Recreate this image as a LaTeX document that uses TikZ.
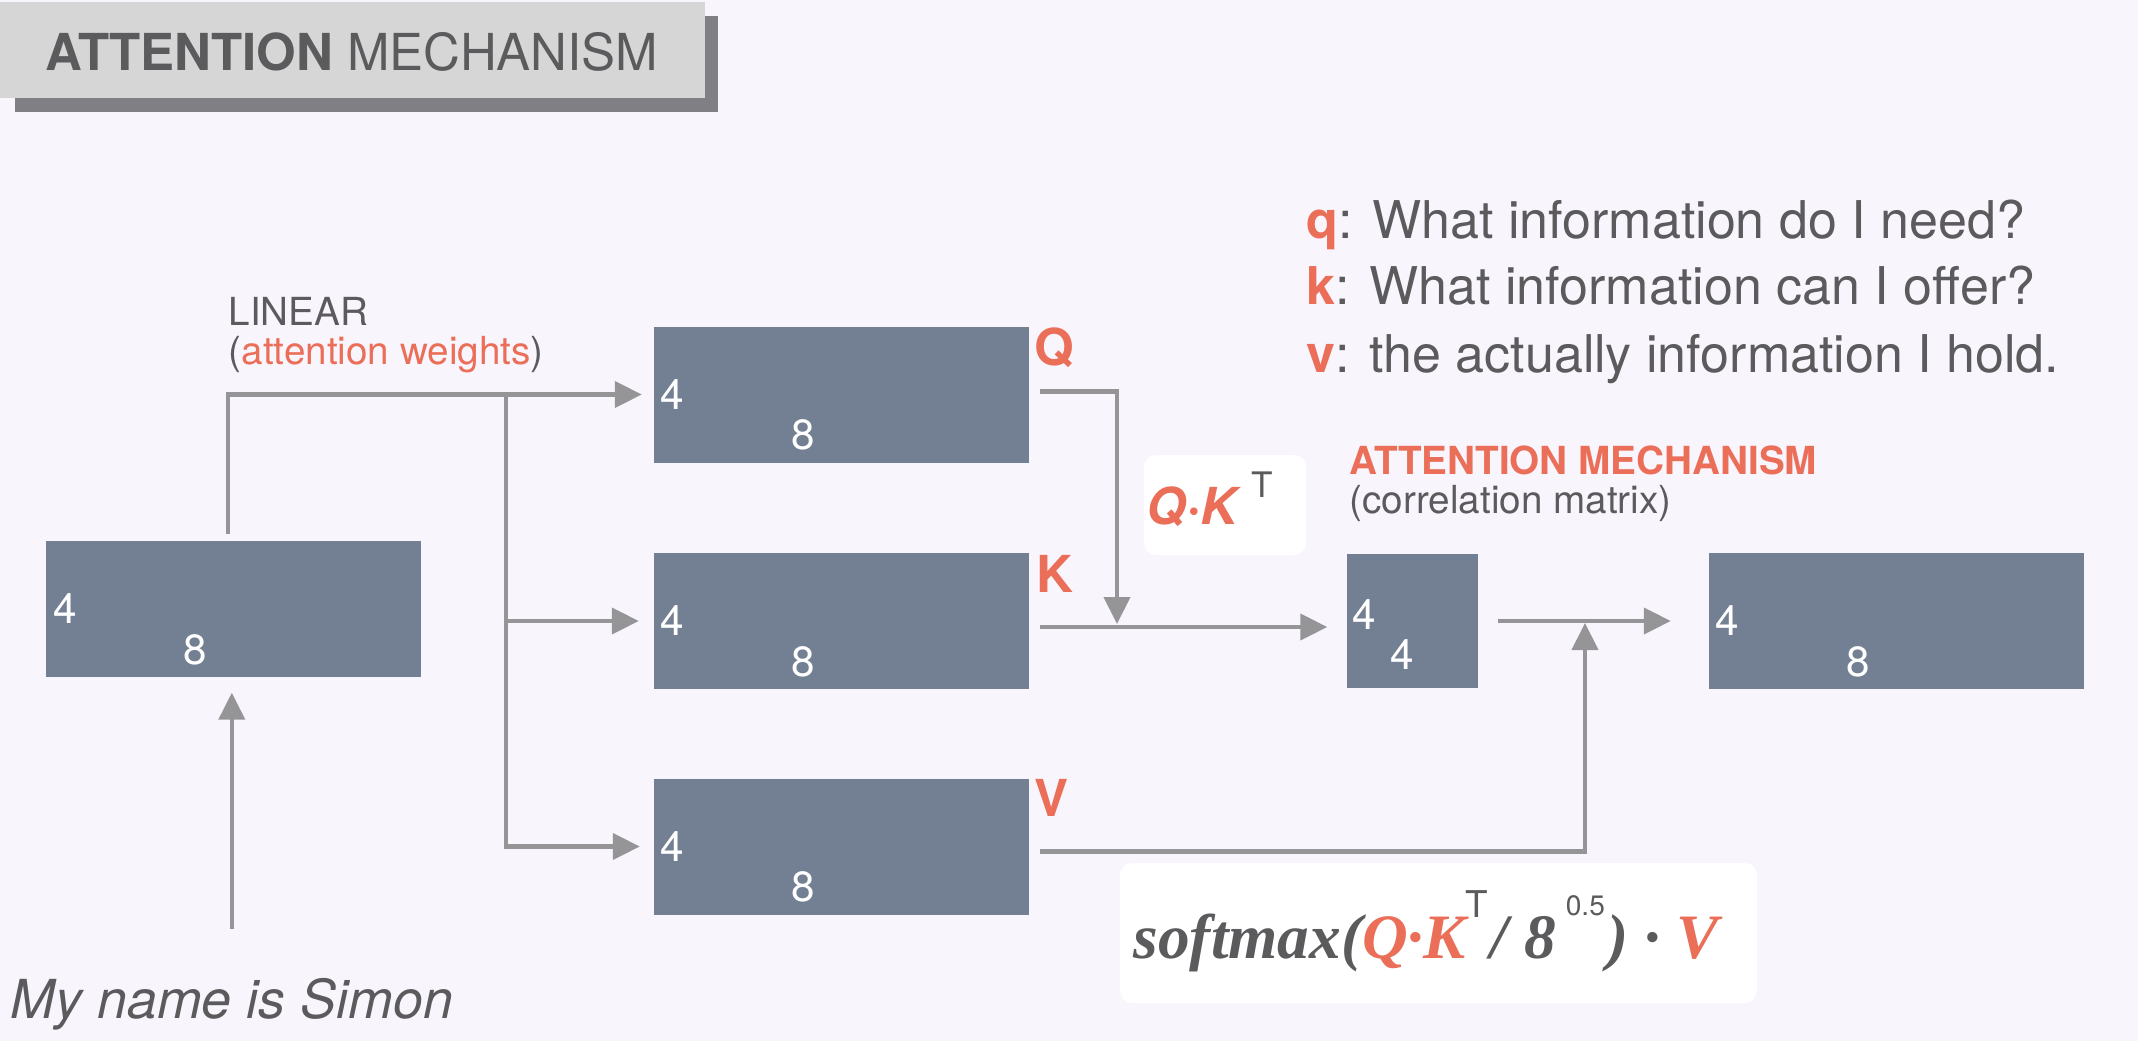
\documentclass[tikz,border=0pt]{standalone}
\usepackage{fontspec}
\setmainfont{TeX Gyre Heros}
\newfontfamily\formfont{Liberation Serif}
\usepackage{tikz}
\usetikzlibrary{arrows.meta}
\definecolor{pagebg}{RGB}{249,245,253}
\definecolor{slate}{RGB}{115,128,147}
\definecolor{wiregray}{RGB}{149,149,151}
\definecolor{accentred}{RGB}{234,110,88}
\definecolor{inkgray}{RGB}{91,91,93}
\definecolor{titlegray}{RGB}{214,214,214}
\definecolor{shadowgray}{RGB}{128,127,132}
\newcommand{\fsz}[1]{\fontsize{#1}{#1}\selectfont}

\begin{document}
\begin{tikzpicture}[>={Triangle[length=0.27cm,width=0.26cm]},
    mat/.style={fill=slate, minimum width=3.75cm, minimum height=1.36cm, inner sep=0},
    dim/.style={text=white, font=\fsz{12}, inner sep=0},
    wire/.style={draw=wiregray, line width=1.2pt},
    tag/.style={text=accentred, font=\bfseries\fsz{14.5}, inner sep=0, anchor=base west},
    note/.style={text=inkgray, inner sep=0, anchor=base west},
    card/.style={fill=white, rounded corners=0.12cm, inner sep=0}]
  \fill[pagebg] (0,0) rectangle (21.38,10.41);
  % title
  \fill[shadowgray] (0.15,9.29) rectangle (7.18,10.25);
  \fill[titlegray] (0,9.43) rectangle (7.05,10.39);
  \node[note, font=\fsz{14.5}] (title) at (0.45,9.70) {\textbf{ATTENTION} MECHANISM};

  % matrices
  \node[mat] (inbox) at (2.335,4.32) {};
  \node[mat] (qbox) at (8.41,6.465) {};
  \node[mat] (kbox) at (8.41,4.20) {};
  \node[mat] (vbox) at (8.41,1.945) {};
  \node[mat, minimum width=1.31cm, minimum height=1.34cm] (attbox) at (14.125,4.20) {};
  \node[mat] (outbox) at (18.96,4.20) {};
  \foreach \b in {inbox,qbox,kbox,vbox,outbox}{
    \node[dim, anchor=west] (\b-rows) at ([xshift=0.07cm]\b.west) {4};
    \node[dim] (\b-cols) at ([xshift=1.5cm,yshift=0.28cm]\b.south west) {8};
  }
  \node[dim, anchor=west] (attbox-rows) at ([xshift=0.05cm,yshift=0.06cm]attbox.west) {4};
  \node[dim] (attbox-cols) at ([xshift=0.56cm,yshift=0.34cm]attbox.south west) {4};

  \node[tag] (qtag) at ([xshift=0.05cm,yshift=-0.40cm]qbox.north east) {Q};
  \node[tag] (ktag) at ([xshift=0.07cm,yshift=-0.40cm]kbox.north east) {K};
  \node[tag] (vtag) at ([xshift=0.05cm,yshift=-0.39cm]vbox.north east) {V};

  % texts
  \node[note, font=\fsz{11}] (lin) at (2.28,7.16) {LINEAR};
  \node[note, font=\fsz{11}] (linw) at (2.28,6.77) {(\textcolor{accentred}{attention weights})};
  \node[note, font=\bfseries\fsz{11}, text=accentred] (atttitle) at (13.49,5.67) {ATTENTION MECHANISM};
  \node[note, font=\fsz{11}] (attsub) at (13.49,5.28) {(correlation matrix)};
  \node[note, font=\fsz{14.8}] (legq) at (13.06,8.02) {\textcolor{accentred}{\textbf{q}}: What information do I need?};
  \node[note, font=\fsz{14.8}] (legk) at (13.06,7.36) {\textcolor{accentred}{\textbf{k}}: What information can I offer?};
  \node[note, font=\fsz{14.8}] (legv) at (13.06,6.69) {\textcolor{accentred}{\textbf{v}}: the actually information I hold.};
  \node[note, font=\itshape\fsz{15.3}] (sent) at (0.10,0.23) {My name is Simon};

  \node[card, minimum width=1.62cm, minimum height=1.0cm] (qkcard) at (12.25,5.36) {};
  \node[note, font=\fsz{14.5}] (qktxt) at (11.46,5.17) {\textcolor{accentred}{\bfseries\itshape Q·K}\hspace{4pt}\raisebox{7.5pt}{\fsz{10}T}};
  \node[card, minimum width=6.37cm, minimum height=1.40cm] (smcard) at (14.385,1.08) {};
  \node[note, font=\formfont\bfseries\itshape\fsz{18}] (smtxt) at (11.33,0.83) {softmax(\textcolor{accentred}{Q·K}\makebox[0.25cm][l]{\raisebox{11.5pt}{\normalfont\fsz{10.5}T}}/ 8\hspace{0.1cm}\raisebox{12pt}{\normalfont\fsz{8}0.5}\hspace{0.03cm}) · \textcolor{accentred}{V}};

  % connectors
  \coordinate (split) at (5.06,6.465);
  \coordinate (qkjoin) at (11.17,4.17);
  \coordinate (vjoin) at (15.85,4.18);
  \draw[wire,->,shorten >=0.11cm] ([xshift=-0.055cm,yshift=0.06cm]inbox.north) |- (qbox.west);
  \draw[wire,->,shorten >=0.14cm] (split) |- (kbox.west);
  \draw[wire,->,shorten >=0.13cm] (split) |- (vbox.west);
  \draw[wire,->] ([xshift=0.11cm,yshift=0.03cm]qbox.east) -| (qkjoin);
  \draw[wire,->,shorten >=0.19cm] ([xshift=0.11cm,yshift=-0.06cm]kbox.east) -- ([yshift=-0.06cm]attbox.west);
  \draw[wire,->,shorten <=0.19cm,shorten >=0.37cm] (attbox.east) -- (outbox.west);
  \draw[wire,->] ([xshift=0.11cm,yshift=-0.05cm]vbox.east) -| (vjoin);
  \draw[wire,->,shorten <=0.48cm,shorten >=0.15cm] (sent.north) -- (sent.north |- inbox.south);
\end{tikzpicture}
\end{document}
